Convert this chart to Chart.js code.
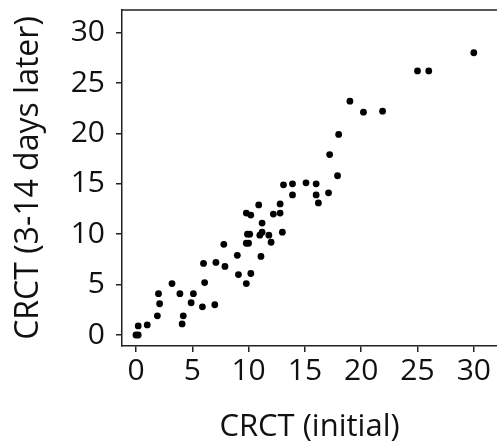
<!DOCTYPE html>
<html>
<head>
<meta charset="utf-8">
<script src="https://cdn.jsdelivr.net/npm/chart.js@4/dist/chart.umd.min.js"></script>
<style>
html,body{margin:0;padding:0;background:#fff;}
#wrap{width:497px;height:446px;position:relative;}
</style>
</head>
<body>
<div id="wrap"><canvas id="c" width="497" height="446"></canvas></div>
<script>
const xInitial = [30,25,26,19,20.2,21.9,18,17.2,17.9,13.1,13.9,15.1,16,13.9,16,16.2,17.1,10.9,12.8,9.8,10.2,12.2,12.8,11.2,9.9,10.1,11,11.2,11.8,13,12,9.8,10,11.1,7.8,9,6,7.1,7.9,9.1,10.2,9.8,3.2,6.1,2,3.9,5.1,2.1,4.9,5.9,7,1.9,4.2,4.1,0.2,1,0,0.2];
const yLater   = [28,26.2,26.2,23.2,22.1,22.2,19.9,17.9,15.8,14.9,15,15.1,15,13.9,13.9,13.1,14.1,12.9,13,12.1,11.9,12,12.1,11.1,10,10,9.9,10.2,9.9,10.2,9.2,9.1,9.1,7.8,9,7.9,7.1,7.2,6.8,6,6.1,5.1,5.1,5.2,4.1,4.1,4.1,3.1,3.2,2.8,3,1.9,1.9,1.1,0.9,1,0,0];
const tickValues = [0,5,10,15,20,25,30];
const xTitle = 'CRCT (initial)';
const yTitle = 'CRCT (3-14 days later)';

const points = xInitial.map((x,i)=>({x:x,y:yLater[i]}));
const FONT = 'Open Sans';

const boxPlugin = {
  id:'box',
  afterDraw(chart){
    const a = chart.chartArea, ctx = chart.ctx;
    ctx.save();
    ctx.strokeStyle = '#222';
    ctx.lineWidth = 1.5;
    ctx.beginPath();
    ctx.moveTo(a.left, a.top);
    ctx.lineTo(a.right+2, a.top);
    ctx.stroke();
    ctx.restore();
  }
};

function zeroPad(s){ s.paddingTop = 0; s.paddingBottom = 0; s.paddingLeft = 0; s.paddingRight = 0; }

new Chart(document.getElementById('c'), {
  type:'scatter',
  data:{datasets:[{data:points, backgroundColor:'#000', borderColor:'#000', pointRadius:3.4, pointHoverRadius:3.4, borderWidth:0, clip:false}]},
  options:{
    responsive:false,
    animation:false,
    events:[],
    layout:{autoPadding:false, padding:{left:0,right:0,top:10,bottom:0}},
    plugins:{legend:{display:false}, tooltip:{enabled:false}},
    scales:{
      x:{
        type:'linear', min:-1.24, max:32.06,
        afterBuildTicks(s){ s.ticks = tickValues.map(v=>({value:v})); },
        afterFit(s){ s.height = 100; zeroPad(s); },
        grid:{drawOnChartArea:false, drawTicks:true, tickLength:6, color:'#222', lineWidth:1.5},
        border:{display:true, color:'#222', width:1.5},
        ticks:{color:'#111', font:{family:FONT, size:30}, padding:1, maxRotation:0, autoSkip:false},
        title:{display:true, text:xTitle, color:'#111', font:{family:FONT, size:31}, padding:{top:10,bottom:0}}
      },
      y:{
        type:'linear', min:-1.09, max:32.24,
        afterBuildTicks(s){ s.ticks = tickValues.map(v=>({value:v})); },
        afterFit(s){ s.width = 122; zeroPad(s); },
        grid:{drawOnChartArea:false, drawTicks:true, tickLength:6, color:'#222', lineWidth:1.5},
        border:{display:true, color:'#222', width:1.5},
        ticks:{color:'#111', font:{family:FONT, size:30}, padding:11, autoSkip:false},
        title:{display:true, text:yTitle, color:'#111', font:{family:FONT, size:32}, padding:{top:10,bottom:4}}
      }
    }
  },
  plugins:[boxPlugin]
});
</script>
</body>
</html>
